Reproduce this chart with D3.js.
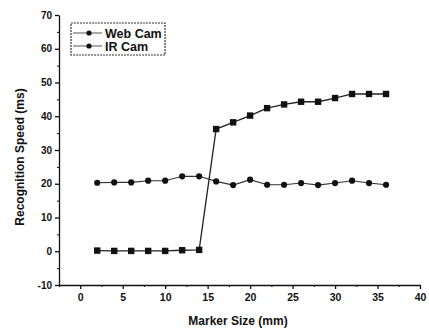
<!DOCTYPE html>
<html>
<head>
<meta charset="utf-8">
<script src="https://cdn.jsdelivr.net/npm/d3@7"></script>
<style>
  body { margin: 0; background: #fff; }
  svg { display: block; font-family: "Liberation Sans", Arial, sans-serif; }
</style>
</head>
<body>
<div id="chart"></div>
<script>
// data
const markerSize = [2, 4, 6, 8, 10, 12, 14, 16, 18, 20, 22, 24, 26, 28, 30, 32, 34, 36];
const webCam = [0.2, 0.1, 0.1, 0.1, 0.1, 0.3, 0.4, 36.2, 38.2, 40.2, 42.4, 43.5, 44.3, 44.3, 45.4, 46.6, 46.6, 46.6];
const irCam = [20.3, 20.4, 20.4, 20.9, 20.9, 22.2, 22.2, 20.7, 19.6, 21.2, 19.7, 19.7, 20.2, 19.6, 20.2, 20.9, 20.2, 19.7];
const xTicks = [0, 5, 10, 15, 20, 25, 30, 35, 40];
const yTicks = [-10, 0, 10, 20, 30, 40, 50, 60, 70];
const seriesNames = ['Web Cam', 'IR Cam'];

const width = 429, height = 328;
const ink = '#111';

const svg = d3.select('#chart').append('svg')
  .attr('width', width)
  .attr('height', height);

const x = d3.scaleLinear().domain([-2.5, 40]).range([59, 420]);
const y = d3.scaleLinear().domain([-10, 70]).range([285, 15]);

// minor ticks
const xMinor = d3.range(-2.5, 40, 2.5).filter(v => !xTicks.includes(v));
const yMinor = d3.range(-5, 70, 5).filter(v => !yTicks.includes(v));

svg.append('g')
  .attr('transform', `translate(0,${y(-10)})`)
  .call(d3.axisBottom(x).tickValues(xMinor).tickSize(2).tickFormat(''))
  .call(g => g.select('.domain').remove())
  .selectAll('line').attr('stroke', ink);

svg.append('g')
  .attr('transform', `translate(${x(-2.5)},0)`)
  .call(d3.axisLeft(y).tickValues(yMinor).tickSize(2).tickFormat(''))
  .call(g => g.select('.domain').remove())
  .selectAll('line').attr('stroke', ink);

// main axes
const xAxis = svg.append('g')
  .attr('transform', `translate(0,${y(-10)})`)
  .call(d3.axisBottom(x).tickValues(xTicks).tickSize(4).tickSizeOuter(0).tickPadding(5)
    .tickFormat(d => String(d)));
xAxis.selectAll('path, line').attr('stroke', ink).attr('stroke-width', 1.3);
xAxis.selectAll('text')
  .attr('fill', ink)
  .style('font-size', '10.5px')
  .style('font-weight', 'bold');

const yAxis = svg.append('g')
  .attr('transform', `translate(${x(-2.5)},0)`)
  .call(d3.axisLeft(y).tickValues(yTicks).tickSize(4).tickSizeOuter(0).tickPadding(3)
    .tickFormat(d => String(d)));
yAxis.selectAll('path, line').attr('stroke', ink).attr('stroke-width', 1.3);
yAxis.selectAll('text')
  .attr('fill', ink)
  .style('font-size', '10px')
  .style('font-weight', 'bold');

// axis titles
svg.append('text')
  .attr('x', 238)
  .attr('y', 325)
  .attr('text-anchor', 'middle')
  .attr('fill', ink)
  .style('font-size', '12px')
  .style('font-weight', 'bold')
  .text('Marker Size (mm)');

svg.append('text')
  .attr('transform', 'translate(24,157) rotate(-90)')
  .attr('text-anchor', 'middle')
  .attr('fill', ink)
  .style('font-size', '12px')
  .style('font-weight', 'bold')
  .text('Recognition Speed (ms)');

// series
const line = d3.line()
  .x((d, i) => x(markerSize[i]))
  .y(d => y(d));

svg.append('path')
  .datum(irCam)
  .attr('fill', 'none')
  .attr('stroke', '#333')
  .attr('stroke-width', 1.1)
  .attr('d', line);

svg.append('path')
  .datum(webCam)
  .attr('fill', 'none')
  .attr('stroke', '#222')
  .attr('stroke-width', 1.3)
  .attr('d', line);

svg.selectAll('.sq')
  .data(webCam)
  .enter()
  .append('rect')
  .attr('class', 'sq')
  .attr('x', (d, i) => x(markerSize[i]) - 3.2)
  .attr('y', d => y(d) - 3.2)
  .attr('width', 6.4)
  .attr('height', 6.4)
  .attr('fill', ink);

svg.selectAll('.dot')
  .data(irCam)
  .enter()
  .append('circle')
  .attr('class', 'dot')
  .attr('cx', (d, i) => x(markerSize[i]))
  .attr('cy', d => y(d))
  .attr('r', 3.1)
  .attr('fill', ink);

// legend
const legend = svg.append('g').attr('transform', 'translate(71,23)');
legend.append('rect')
  .attr('width', 94)
  .attr('height', 32)
  .attr('fill', '#fff')
  .attr('stroke', '#333')
  .attr('stroke-width', 1.2)
  .attr('stroke-dasharray', '2,1');

seriesNames.forEach((name, i) => {
  const row = legend.append('g').attr('transform', `translate(0,${10 + i * 13})`);
  row.append('line')
    .attr('x1', 2).attr('x2', 31)
    .attr('y1', 0).attr('y2', 0)
    .attr('stroke', '#444')
    .attr('stroke-width', 0.9);
  row.append('circle')
    .attr('cx', 18)
    .attr('cy', 0)
    .attr('r', 2.6)
    .attr('fill', ink);
  row.append('text')
    .attr('x', 34)
    .attr('y', 4.5)
    .attr('fill', ink)
    .style('font-size', '12.5px')
    .style('font-weight', 'bold')
    .text(name);
});
</script>
</body>
</html>
